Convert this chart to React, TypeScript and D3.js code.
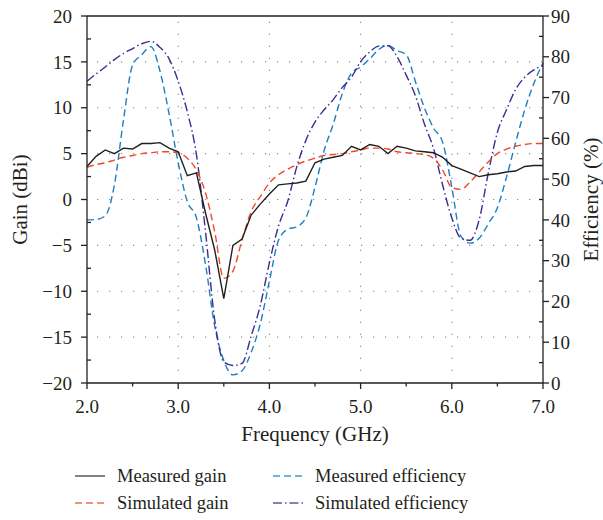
import React from "react";
import * as d3 from "d3";

const freq = [2.0,2.1,2.2,2.3,2.4,2.5,2.6,2.7,2.8,2.9,3.0,3.1,3.2,3.3,3.4,3.5,3.6,3.7,3.8,3.9,4.0,4.1,4.2,4.3,4.4,4.5,4.6,4.7,4.8,4.9,5.0,5.1,5.2,5.3,5.4,5.5,5.6,5.7,5.8,5.9,6.0,6.1,6.2,6.3,6.4,6.5,6.6,6.7,6.8,6.9,7.0];

const measuredGain = [3.6,4.7,5.4,5.0,5.6,5.5,6.1,6.1,6.2,5.6,5.2,2.6,2.9,-1.5,-5.5,-10.8,-5.0,-4.3,-1.7,-0.5,0.6,1.6,1.7,1.8,2.0,4.0,4.4,4.6,4.8,5.8,5.4,6.0,5.8,5.0,5.8,5.6,5.3,5.2,5.1,4.6,3.7,3.3,2.9,2.5,2.7,2.8,3.0,3.1,3.6,3.7,3.7];

const simulatedGain = [3.5,3.8,4.0,4.3,4.6,4.8,5.0,5.1,5.2,5.2,5.1,4.5,3.2,0.7,-3.5,-8.6,-7.8,-4.4,-1.3,0.3,1.8,2.7,3.3,3.8,4.2,4.5,4.8,4.9,5.0,5.2,5.4,5.6,5.6,5.5,5.2,5.1,5.0,4.9,4.5,3.2,1.3,1.1,1.9,3.0,4.1,5.0,5.5,5.8,6.0,6.1,6.1];

const measuredEff = [40.0,40.1,41.0,48.5,64.5,78.0,80.5,82.5,76.5,66.0,54.0,44.5,40.5,29.0,14.0,5.5,2.0,3.0,7.5,14.5,25.0,35.0,37.7,38.3,40.5,48.0,57.0,63.5,71.0,76.0,77.5,79.5,81.8,82.8,81.5,80.5,74.0,67.5,62.5,59.0,48.0,36.0,34.3,35.5,39.0,43.0,50.5,59.0,67.0,73.5,78.5];

const simulatedEff = [74.0,75.8,77.5,79.3,80.8,82.0,83.2,83.8,82.3,79.5,74.0,66.5,56.0,37.0,15.5,5.2,4.3,4.8,11.5,19.0,29.5,38.5,44.5,53.0,59.5,64.0,67.0,69.5,72.5,75.0,78.8,81.2,82.6,82.7,80.0,75.5,70.5,63.5,57.5,48.5,40.5,35.5,35.0,40.0,51.5,61.5,67.0,72.0,75.0,76.8,77.8];

const xTicks = [2, 3, 4, 5, 6, 7];
const gainTicks = [-20, -15, -10, -5, 0, 5, 10, 15, 20];
const effTicks = [0, 10, 20, 30, 40, 50, 60, 70, 80, 90];

const C_BLACK = "#231f20";
const C_RED = "#ee4a2a";
const C_BLUE = "#1b7fc3";
const C_PURPLE = "#3a2c92";

const FONT = "'Liberation Serif', 'Times New Roman', serif";

export default function App() {
  const W = 603, H = 520;
  const L = 87, R = 543, T = 16, B = 383;
  const x = d3.scaleLinear().domain([2, 7]).range([L, R]);
  const yG = d3.scaleLinear().domain([-20, 20]).range([B, T]);
  const yE = d3.scaleLinear().domain([0, 90]).range([B, T]);

  const lineG = (vals: number[], curve: any) =>
    d3.line<number>().x((_, i) => x(freq[i])).y((v) => yG(v)).curve(curve)(vals) || "";
  const lineE = (vals: number[], curve: any) =>
    d3.line<number>().x((_, i) => x(freq[i])).y((v) => yE(v)).curve(curve)(vals) || "";

  const minorX = d3.range(2.5, 7, 1);
  const minorG = d3.range(-17.5, 20, 5);
  const minorE = d3.range(5, 90, 10);

  const legend = [
    { label: "Measured gain", color: C_BLACK, dash: "none", col: 0, row: 0 },
    { label: "Simulated gain", color: C_RED, dash: "7 4", col: 0, row: 1 },
    { label: "Measured efficiency", color: C_BLUE, dash: "7 4", col: 1, row: 0 },
    { label: "Simulated efficiency", color: C_PURPLE, dash: "9 3 1.5 3", col: 1, row: 1 },
  ];

  return (
    <svg width={W} height={H} style={{ position: "absolute", left: 0, top: 0, background: "#fff" }} fontFamily={FONT}>
      {/* grid */}
      <g stroke="#8a8a8a" strokeWidth={1.1} strokeDasharray="1.2 10.8">
        {[-15, -10, -5, 0, 5, 10, 15].map((g) => (
          <line key={"hg" + g} x1={L + 10} x2={R} y1={yG(g)} y2={yG(g)} />
        ))}
        {[3, 4, 5, 6].map((f) => (
          <line key={"vg" + f} x1={x(f)} x2={x(f)} y1={B - 12} y2={T} />
        ))}
      </g>

      {/* curves */}
      <g fill="none" strokeWidth={1.4}>
        <path d={lineE(measuredEff, d3.curveMonotoneX)} stroke={C_BLUE} strokeDasharray="7 4" />
        <path d={lineE(simulatedEff, d3.curveMonotoneX)} stroke={C_PURPLE} strokeDasharray="9 3 1.5 3" />
        <path d={lineG(simulatedGain, d3.curveMonotoneX)} stroke={C_RED} strokeDasharray="7 4" />
        <path d={lineG(measuredGain, d3.curveLinear)} stroke={C_BLACK} />
      </g>

      {/* frame */}
      <g stroke={C_BLACK} strokeWidth={1.3} fill="none">
        <line x1={L} x2={R} y1={T} y2={T} />
        <line x1={L} x2={R} y1={B} y2={B} />
        <line x1={L} x2={L} y1={T} y2={B} />
        <line x1={R} x2={R} y1={T} y2={B} />
        {gainTicks.map((g) => (
          <line key={"gt" + g} x1={L - 6} x2={L} y1={yG(g)} y2={yG(g)} />
        ))}
        {minorG.map((g) => (
          <line key={"gm" + g} x1={L} x2={L + 4} y1={yG(g)} y2={yG(g)} />
        ))}
        {effTicks.map((e) => (
          <line key={"et" + e} x1={R} x2={R + 6} y1={yE(e)} y2={yE(e)} />
        ))}
        {minorE.map((e) => (
          <line key={"em" + e} x1={R - 4} x2={R} y1={yE(e)} y2={yE(e)} />
        ))}
        {xTicks.map((f) => (
          <line key={"xt" + f} x1={x(f)} x2={x(f)} y1={B} y2={B + 6} />
        ))}
        {minorX.map((f) => (
          <line key={"xm" + f} x1={x(f)} x2={x(f)} y1={B} y2={B + 3.5} />
        ))}
      </g>

      {/* tick labels */}
      <g fontSize={19} fill={C_BLACK}>
        {gainTicks.map((g) => (
          <text key={"gl" + g} x={72} y={yG(g)} dy="0.35em" textAnchor="end">
            {g < 0 ? "\u2212" + Math.abs(g) : g}
          </text>
        ))}
        {effTicks.map((e) => (
          <text key={"el" + e} x={551} y={yE(e)} dy="0.35em" textAnchor="start">
            {e}
          </text>
        ))}
        {xTicks.map((f) => (
          <text key={"xl" + f} x={x(f)} y={413} textAnchor="middle">
            {f.toFixed(1)}
          </text>
        ))}
      </g>

      {/* axis titles */}
      <g fontSize={21} fill={C_BLACK}>
        <text x={(L + R) / 2} y={441} textAnchor="middle">Frequency (GHz)</text>
        <text transform={`translate(27, ${(T + B) / 2}) rotate(-90)`} textAnchor="middle">Gain (dBi)</text>
        <text transform={`translate(598, ${(T + B) / 2}) rotate(-90)`} textAnchor="middle">Efficiency (%)</text>
      </g>

      {/* legend */}
      <g fontSize={18.5} fill={C_BLACK}>
        {legend.map((d) => {
          const lx = d.col === 0 ? 75 : 273;
          const ly = d.row === 0 ? 476 : 503;
          return (
            <g key={d.label}>
              <line x1={lx} x2={lx + 30} y1={ly} y2={ly} stroke={d.color} strokeWidth={1.4} strokeDasharray={d.dash} opacity={0.8} />
              <text x={lx + 42} y={ly} dy="0.33em">{d.label}</text>
            </g>
          );
        })}
      </g>
    </svg>
  );
}
